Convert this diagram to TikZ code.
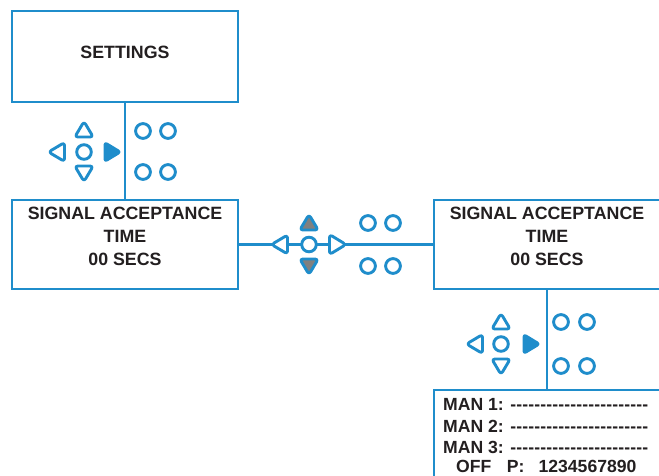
\documentclass[tikz,border=0pt]{standalone}
\usepackage{fontspec}
\setmainfont{Liberation Sans}[BoldFont={Liberation Sans Bold}]
\definecolor{ublue}{RGB}{31,141,203}
\definecolor{ugray}{RGB}{128,128,128}
\definecolor{utext}{RGB}{35,31,32}
\tikzset{
  box/.style={draw=ublue, line width=2.8pt, fill=white, minimum width=226pt, minimum height=89pt, inner sep=0pt},
  conn/.style={draw=ublue, line width=2.5pt},
  lbl/.style={inner sep=0pt, font=\fontsize{17.8}{23}\selectfont\bfseries, text=utext, align=center},
  rowtxt/.style={inner sep=0pt, font=\fontsize{17.6}{22}\selectfont\bfseries, text=utext, anchor=base west},
  icon/.style={draw=ublue, line width=2.9pt, line join=round, rounded corners=3pt, fill=white},
  ring/.style={draw=ublue, line width=2.9pt, fill=white},
  solid tri/.style={draw=ublue, fill=ublue, line width=2pt, line join=round, rounded corners=3pt},
  gray tri/.style={draw=ublue, fill=ugray, line width=2.9pt, line join=round, rounded corners=3pt}
}
\newcommand\uptri[3]{\path[#1] (#2,#3-8.5) -- (#2-9.2,#3+7) -- (#2+9.2,#3+7) -- cycle;}
\newcommand\dntri[3]{\path[#1] (#2,#3+8.5) -- (#2-9.2,#3-7) -- (#2+9.2,#3-7) -- cycle;}
\newcommand\lftri[3]{\path[#1] (#2-8.5,#3) -- (#2+7.5,#3-9.5) -- (#2+7.5,#3+9.5) -- cycle;}
\newcommand\rttri[3]{\path[#1] (#2+9,#3) -- (#2-7.5,#3-10) -- (#2-7.5,#3+10) -- cycle;}
\newcommand\dsh{-\hspace{0.14pt}}
\newcommand\dashline{\dsh\dsh\dsh\dsh\dsh\dsh\dsh\dsh\dsh\dsh\dsh\dsh\dsh\dsh\dsh\dsh\dsh\dsh\dsh\dsh\dsh\dsh-}
\begin{document}
\begin{tikzpicture}[x=1pt,y=-1pt]
\useasboundingbox (0,0) rectangle (659,475);
\clip (0,0) rectangle (659,475);
% boxes
\node[box, minimum height=91pt] (settings) at (125,56.5) {};
\node[box] (box2) at (125,244.5) {};
\node[box] (box3) at (547,244.5) {};
\node[box, minimum height=120pt] (box4) at (547,450) {};
% connectors
\draw[conn] (settings.south) -- (box2.north);
\draw[conn] (box2.east) -- (box3.west);
\draw[conn] (box3.south) -- (box4.north);
% texts
\node[lbl] (t1) at (125,52.5) {SETTINGS};
\node[lbl] (t2) at (125,236.5) {SIGNAL ACCEPTANCE\\TIME\\00 SECS};
\node[lbl] (t3) at (547,236.5) {SIGNAL ACCEPTANCE\\TIME\\00 SECS};
\node[rowtxt] (man1) at (443,410.5) {MAN 1: \dashline};
\node[rowtxt] (man2) at (443,432) {MAN 2: \dashline};
\node[rowtxt] (man3) at (443,453.5) {MAN 3: \dashline};
\node[rowtxt] (offp) at (456,472.8) {OFF\hspace{15.4pt}P:\hspace{14.2pt}1234567890};
% keypad 1
\uptri{icon}{84}{130}
\dntri{icon}{84}{173}
\lftri{icon}{57}{152}
\rttri{solid tri}{112}{152}
\draw[ring] (84,152) circle (7.3);
\draw[ring] (143,131) circle (7.4);
\draw[ring] (168,131) circle (7.4);
\draw[ring] (143,172) circle (7.4);
\draw[ring] (168,172) circle (7.4);
% keypad 2
\uptri{gray tri}{309}{223}
\dntri{gray tri}{309}{266}
\lftri{icon}{280}{244.5}
\rttri{icon}{337}{244.5}
\draw[ring] (309,244.5) circle (7.3);
\draw[ring] (368,223) circle (7.4);
\draw[ring] (393,223) circle (7.4);
\draw[ring] (368,266) circle (7.4);
\draw[ring] (393,266) circle (7.4);
% keypad 3
\uptri{icon}{501}{322}
\dntri{icon}{501}{366}
\lftri{icon}{475}{344}
\rttri{solid tri}{531}{344}
\draw[ring] (501,344) circle (7.3);
\draw[ring] (561,322) circle (7.4);
\draw[ring] (587,322) circle (7.4);
\draw[ring] (561,366) circle (7.4);
\draw[ring] (587,366) circle (7.4);
\end{tikzpicture}
\end{document}
